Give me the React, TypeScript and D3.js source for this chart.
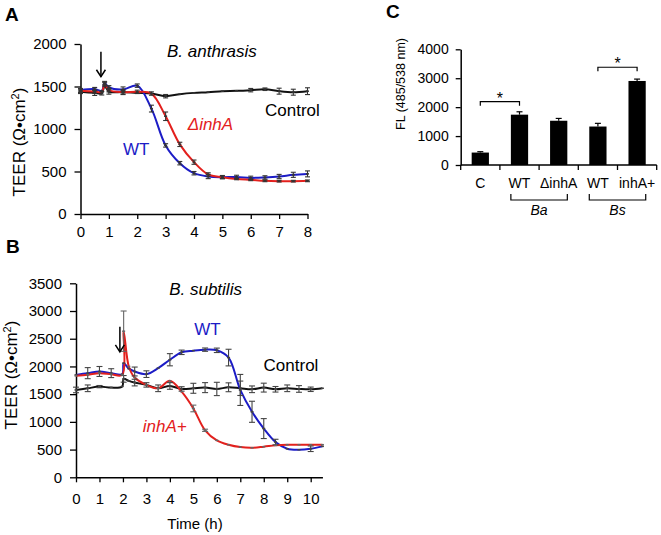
import * as d3 from "d3";
import React, { useEffect, useRef } from "react";

const FONT = "'Liberation Sans', Arial, Helvetica, sans-serif";
const BLUE = "#1c1cc6";
const RED = "#e3201d";
const BLACK = "#111111";

// Panel A - B. anthrasis, TEER over time
const timesA = [0, 0.5, 0.75, 0.85, 1, 1.5, 2, 2.5, 3, 3.5, 4, 4.5, 5, 5.5, 6, 6.5, 7, 7.5, 8];
const controlA = [1437, 1425, 1420, 1505, 1440, 1435, 1425, 1417, 1386, 1410, 1425, 1433, 1445, 1449, 1457, 1468, 1445, 1433, 1445];
const controlErrA = [20, 30, 20, 0, 30, 30, 0, 0, 20, 0, 0, 0, 0, 0, 20, 15, 35, 35, 40];
const wtA = [1457, 1469, 1450, 1540, 1490, 1465, 1510, 1240, 807, 598, 480, 441, 433, 436, 425, 430, 441, 461, 472];
const wtErrA = [20, 20, 0, 20, 20, 30, 20, 40, 20, 20, 20, 25, 20, 20, 20, 20, 25, 30, 35];
const inhAA = [1449, 1440, 1437, 1525, 1457, 1433, 1437, 1417, 1150, 819, 610, 465, 433, 413, 402, 390, 386, 386, 390];
const inhAErrA = [20, 20, 0, 20, 20, 20, 20, 20, 50, 25, 25, 20, 15, 10, 10, 10, 10, 10, 10];
const xTicksA = [0, 1, 2, 3, 4, 5, 6, 7, 8];
const yTicksA = [0, 500, 1000, 1500, 2000];

// Panel B - B. subtilis, TEER over time
const timesB = [0, 0.5, 1, 1.5, 1.97, 2.03, 2.25, 2.5, 3, 3.5, 4, 4.5, 5, 5.5, 6, 6.5, 7, 7.5, 8, 8.5, 9, 9.5, 10, 10.5];
const controlB = [1576, 1606, 1636, 1618, 1640, 1776, 1740, 1709, 1667, 1606, 1648, 1594, 1606, 1618, 1594, 1624, 1606, 1588, 1618, 1588, 1606, 1594, 1588, 1606];
const controlErrB = [50, 60, 20, 0, 0, 60, 0, 60, 40, 60, 60, 40, 90, 90, 120, 80, 130, 60, 80, 50, 60, 60, 40, 0];
const wtB = [1848, 1879, 1909, 1879, 1860, 2060, 1960, 1909, 1861, 1970, 2121, 2255, 2285, 2303, 2291, 2160, 1576, 1182, 879, 636, 515, 497, 515, 558];
const wtErrB = [0, 100, 90, 80, 0, 0, 0, 80, 60, 0, 110, 40, 0, 30, 40, 150, 280, 190, 180, 50, 0, 0, 50, 0];
const inhAPlusB = [1830, 1850, 1879, 1860, 1848, 2636, 2000, 1800, 1667, 1606, 1740, 1545, 1242, 848, 667, 588, 545, 533, 552, 576, 588, 588, 588, 588];
const inhAPlusErrB = [0, 0, 0, 0, 0, 364, 0, 0, 0, 0, 0, 0, 60, 20, 0, 0, 0, 0, 0, 0, 0, 0, 0, 0];
const xTicksB = [0, 1, 2, 3, 4, 5, 6, 7, 8, 9, 10];
const yTicksB = [0, 500, 1000, 1500, 2000, 2500, 3000, 3500];

// Panel C - fluorescence
const categoriesC = ["C", "WT", "\u0394inhA", "WT", "inhA+"];
const valuesC = [430, 1740, 1530, 1330, 2905];
const errorsC = [30, 100, 80, 110, 65];
const yTicksC = [0, 1000, 2000, 3000, 4000];
const groupsC = [
  { label: "Ba", from: 1, to: 2 },
  { label: "Bs", from: 3, to: 4 },
];
const sigC = [
  { from: 0, to: 1, level: 2190 },
  { from: 3, to: 4, level: 3380 },
];

const styleAxis = (g: any, size: number) => {
  g.select(".domain").attr("stroke", "#000").attr("stroke-width", 1.5);
  g.selectAll(".tick line").attr("stroke", "#000").attr("stroke-width", 1.3);
  g.selectAll(".tick text")
    .attr("font-family", FONT)
    .attr("font-size", size)
    .attr("fill", "#000");
};

const addText = (g: any, x: number, y: number, text: string, opts: any = {}) =>
  g
    .append("text")
    .attr("x", x)
    .attr("y", y)
    .attr("font-family", FONT)
    .attr("font-size", opts.size || 17)
    .attr("font-style", opts.italic ? "italic" : "normal")
    .attr("font-weight", opts.bold ? "bold" : "normal")
    .attr("fill", opts.color || "#000")
    .attr("text-anchor", opts.anchor || "middle")
    .text(text);

const drawArrow = (g: any, x: number, y1: number, y2: number) => {
  g.append("line").attr("x1", x).attr("x2", x).attr("y1", y1).attr("y2", y2)
    .attr("stroke", "#000").attr("stroke-width", 1.5);
  g.append("path")
    .attr("d", `M${x - 4.5},${y2 - 7} L${x},${y2} L${x + 4.5},${y2 - 7}`)
    .attr("fill", "none").attr("stroke", "#000").attr("stroke-width", 1.5);
};

const teerLabel = (g: any, x: number, y: number) => {
  const t = g.append("text")
    .attr("transform", `translate(${x},${y}) rotate(-90)`)
    .attr("font-family", FONT).attr("font-size", 17)
    .attr("text-anchor", "middle").attr("fill", "#000");
  t.append("tspan").text("TEER (\u03A9\u2022cm");
  t.append("tspan").attr("dy", -6).attr("font-size", 11).text("2");
  t.append("tspan").attr("dy", 6).text(")");
};

function drawTimePanel(svg: any, cfg: any) {
  const { times, series, x, y, xTicks, yTicks, xPad, yPad, capW } = cfg;
  const g = svg.append("g");

  g.append("g")
    .attr("transform", `translate(${x.range()[0]},0)`)
    .call(d3.axisLeft(y).tickValues(yTicks).tickFormat(d3.format("d")).tickSize(6).tickPadding(yPad).tickSizeOuter(0))
    .call(styleAxis, 15);

  g.append("g")
    .attr("transform", `translate(0,${y(0)})`)
    .call(d3.axisBottom(x).tickValues(xTicks).tickFormat(d3.format("d")).tickSize(5).tickPadding(xPad).tickSizeOuter(0))
    .call(styleAxis, 15);

  const line = d3
    .line<number>()
    .x((d, i) => x(times[i]))
    .y((d) => y(d))
    .curve(d3.curveCatmullRom.alpha(0.5));

  series.forEach((s: any) => {
    g.append("path")
      .attr("d", line(s.values))
      .attr("fill", "none")
      .attr("stroke", s.color)
      .attr("stroke-width", 2);
  });

  // error bars and small dash markers
  series.forEach((s: any) => {
    s.values.forEach((v: number, i: number) => {
      const cx = x(times[i]);
      const e = s.errors[i];
      if (e > 0) {
        g.append("line").attr("x1", cx).attr("x2", cx).attr("y1", y(v - e)).attr("y2", y(v + e))
          .attr("stroke", s.errColor).attr("stroke-width", 1.1);
        [v - e, v + e].forEach((yy) =>
          g.append("line").attr("x1", cx - capW).attr("x2", cx + capW).attr("y1", y(yy)).attr("y2", y(yy))
            .attr("stroke", s.errColor).attr("stroke-width", 1.1)
        );
      }
      g.append("line").attr("x1", cx - 1.5).attr("x2", cx + 1.5).attr("y1", y(v)).attr("y2", y(v))
        .attr("stroke", s.errColor).attr("stroke-width", 1.5);
    });
  });
  return g;
}

function drawPanelA(svg: any) {
  const x = d3.scaleLinear().domain([0, 8]).range([80.5, 307.5]);
  const y = d3.scaleLinear().domain([0, 2000]).range([214, 44]);
  const g = drawTimePanel(svg, {
    times: timesA,
    x, y, xTicks: xTicksA, yTicks: yTicksA, xPad: 7, yPad: 8, capW: 2.5,
    series: [
      { values: controlA, errors: controlErrA, color: BLACK, errColor: "#333" },
      { values: wtA, errors: wtErrA, color: BLUE, errColor: "#333" },
      { values: inhAA, errors: inhAErrA, color: RED, errColor: "#333" },
    ],
  });
  drawArrow(g, x(0.72), y(1909), y(1615));
  addText(g, x(4.63), y(1843), "B. anthrasis", { italic: true });
  addText(g, x(7.47), y(1153), "Control");
  addText(g, x(4.58), y(988), "\u0394inhA", { italic: true, color: RED });
  addText(g, x(1.96), y(694), "WT", { color: BLUE });
  teerLabel(g, 25, 142);
  addText(g, 5, 21, "A", { bold: true, size: 19, anchor: "start" });
}

function drawPanelB(svg: any) {
  const x = d3.scaleLinear().domain([0, 10.5]).range([76, 76 + 10.5 * 23.47]);
  const y = d3.scaleLinear().domain([0, 3500]).range([477.3, 283.3]);
  const g = drawTimePanel(svg, {
    times: timesB,
    x, y, xTicks: xTicksB, yTicks: yTicksB, xPad: 11, yPad: 8, capW: 3,
    series: [
      { values: controlB, errors: controlErrB, color: BLACK, errColor: "#444" },
      { values: wtB, errors: wtErrB, color: BLUE, errColor: "#444" },
      { values: inhAPlusB, errors: inhAPlusErrB, color: RED, errColor: "#666" },
    ],
  });
  drawArrow(g, x(1.87), y(2717), y(2264));
  addText(g, x(5.52), y(3289), "B. subtilis", { italic: true });
  addText(g, x(5.6), y(2567), "WT", { color: BLUE });
  addText(g, x(9.16), y(1918), "Control");
  addText(g, x(3.78), y(817), "inhA+", { italic: true, color: RED });
  addText(g, 195, 529, "Time (h)", { size: 15 });
  teerLabel(g, 17, 375);
  addText(g, 6, 253, "B", { bold: true, size: 19, anchor: "start" });
}

function drawPanelC(svg: any) {
  const g = svg.append("g");
  const x = d3
    .scaleBand<number>()
    .domain(categoriesC.map((d, i) => i))
    .range([460.7, 656.7])
    .paddingInner(0.56)
    .paddingOuter(0.28);
  const y = d3.scaleLinear().domain([0, 4000]).range([165, 49.3]);
  const cx = (i: number) => (x(i) as number) + x.bandwidth() / 2;

  g.selectAll("rect.bar")
    .data(valuesC)
    .join("rect")
    .attr("class", "bar")
    .attr("x", (d: number, i: number) => x(i))
    .attr("y", (d: number) => y(d))
    .attr("width", x.bandwidth())
    .attr("height", (d: number) => y(0) - y(d))
    .attr("fill", "#000");

  valuesC.forEach((v, i) => {
    const e = errorsC[i];
    g.append("line").attr("x1", cx(i)).attr("x2", cx(i)).attr("y1", y(v)).attr("y2", y(v + e))
      .attr("stroke", "#000").attr("stroke-width", 1.2);
    g.append("line").attr("x1", cx(i) - 3).attr("x2", cx(i) + 3).attr("y1", y(v + e)).attr("y2", y(v + e))
      .attr("stroke", "#000").attr("stroke-width", 1.2);
  });

  g.append("g")
    .attr("transform", `translate(${x.range()[0]},0)`)
    .call(d3.axisLeft(y).tickValues(yTicksC).tickFormat(d3.format("d")).tickSize(5).tickPadding(7).tickSizeOuter(0))
    .call(styleAxis, 14);

  // x axis with ticks at band boundaries
  const [r0, r1] = x.range();
  g.append("line").attr("x1", r0).attr("x2", r1).attr("y1", y(0)).attr("y2", y(0))
    .attr("stroke", "#000").attr("stroke-width", 1.5);
  categoriesC.concat([""]).forEach((c, i) => {
    const bx = r0 + x.step() * i;
    g.append("line").attr("x1", bx).attr("x2", bx).attr("y1", y(0)).attr("y2", y(0) + 5)
      .attr("stroke", "#000").attr("stroke-width", 1.3);
  });
  categoriesC.forEach((c, i) => addText(g, cx(i), 188, c, { size: 14 }));

  groupsC.forEach((grp) => {
    const x1 = x(grp.from) as number;
    const x2 = (x(grp.to) as number) + x.bandwidth();
    g.append("path")
      .attr("d", `M${x1},194 L${x1},200 L${x2},200 L${x2},194`)
      .attr("fill", "none").attr("stroke", "#000").attr("stroke-width", 1.2);
    addText(g, (x1 + x2) / 2, 215, grp.label, { size: 14, italic: true });
  });

  sigC.forEach((s) => {
    const x1 = cx(s.from);
    const x2 = cx(s.to);
    const yy = y(s.level);
    g.append("path")
      .attr("d", `M${x1},${yy + 4} L${x1},${yy} L${x2},${yy} L${x2},${yy + 4}`)
      .attr("fill", "none").attr("stroke", "#000").attr("stroke-width", 1.2);
    addText(g, (x1 + x2) / 2, yy + 2, "*", { size: 16 });
  });

  g.append("text")
    .attr("transform", `translate(405,84) rotate(-90)`)
    .attr("font-family", FONT).attr("font-size", 12.5)
    .attr("text-anchor", "middle").attr("fill", "#000")
    .text("FL (485/538 nm)");

  addText(g, 386, 18, "C", { bold: true, size: 19, anchor: "start" });
}

export default function App() {
  const svgRef = useRef<SVGSVGElement>(null);

  useEffect(() => {
    const svg = d3.select(svgRef.current);
    svg.selectAll("*").remove();
    drawPanelA(svg);
    drawPanelB(svg);
    drawPanelC(svg);
  }, []);

  return (
    <svg
      ref={svgRef}
      width={661}
      height={535}
      style={{ position: "absolute", left: 0, top: 0, background: "#fff" }}
    />
  );
}
